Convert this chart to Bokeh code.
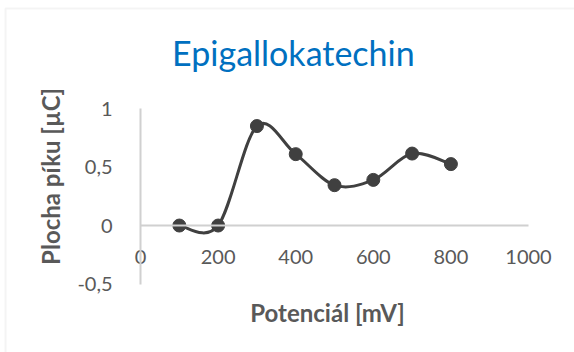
import numpy as np
from bokeh.plotting import figure
from bokeh.models import Range1d, FixedTicker, Label, BoxAnnotation
from bokeh.embed import file_html
from bokeh.resources import INLINE

# ---- data ----
potential_mv = [100, 200, 300, 400, 500, 600, 700, 800]
peak_area_uc = [0.0, 0.0, 0.85, 0.61, 0.345, 0.39, 0.615, 0.525]
x_ticks = [0, 200, 400, 600, 800, 1000]
y_ticks = [-0.5, 0, 0.5, 1]
y_tick_labels = {-0.5: "-0,5", 0: "0", 0.5: "0,5", 1: "1"}
title_text = "Epigallokatechin"
x_title = "Potenciál [mV]"
y_title = "Plocha píku [µC]"

FONT = "Lato"
GRAY_TXT = "#595959"
LINE_COL = "#404040"

# frame covers the whole canvas; axes cross at the origin
p = figure(width=574, height=352, x_range=Range1d(-361, 1118.6), y_range=Range1d(-1.085, 1.923),
           output_backend="svg", toolbar_location=None, title=None,
           min_border=0, min_border_left=0, min_border_right=0,
           min_border_top=0, min_border_bottom=0)
p.outline_line_color = None
p.grid.visible = False
p.background_fill_color = "white"
p.border_fill_color = "white"

for ax in (p.xaxis[0], p.yaxis[0]):
    ax.fixed_location = 0
    ax.axis_line_color = "#d0d0d0"
    ax.axis_line_width = 2
    ax.major_tick_line_color = None
    ax.minor_tick_line_color = None
    ax.major_label_text_font = FONT
    ax.major_label_text_font_size = "20px"
    ax.major_label_text_color = GRAY_TXT

p.xaxis.ticker = FixedTicker(ticks=x_ticks)
p.xaxis.bounds = (0, 1000)
p.xaxis.major_label_standoff = 18
p.yaxis.ticker = FixedTicker(ticks=y_ticks)
p.yaxis.bounds = (-0.5, 1)
p.yaxis.major_label_overrides = y_tick_labels
p.yaxis.major_label_standoff = 22

# smoothed line (Catmull-Rom style Bezier, as in the spreadsheet chart)
x = np.asarray(potential_mv, dtype=float)
y = np.asarray(peak_area_uc, dtype=float)
xp = np.concatenate([[x[0]], x, [x[-1]]])
yp = np.concatenate([[y[0]], y, [y[-1]]])
n = len(x)
x0 = x[:-1]; y0 = y[:-1]; x1 = x[1:]; y1 = y[1:]
cx0 = x0 + (x1 - xp[0:n-1]) / 6.0
cy0 = y0 + (y1 - yp[0:n-1]) / 6.0
cx1 = x1 - (xp[3:n+2] - x0) / 6.0
cy1 = y1 - (yp[3:n+2] - y0) / 6.0
p.bezier(x0=x0, y0=y0, x1=x1, y1=y1, cx0=cx0, cy0=cy0, cx1=cx1, cy1=cy1,
         line_color=LINE_COL, line_width=3)
p.scatter(potential_mv, peak_area_uc, size=13, color=LINE_COL)

p.add_layout(Label(x=394, y=1.479, text=title_text, text_font=FONT, text_font_size="34px",
                   text_color="#0070C0", text_align="center", text_baseline="middle"))
p.add_layout(Label(x=482, y=-0.744, text=x_title, text_font=FONT, text_font_size="24px",
                   text_font_style="bold", text_color=GRAY_TXT, text_align="center",
                   text_baseline="middle"))
p.add_layout(Label(x=-232, y=0.42, text=y_title, text_font=FONT, text_font_size="24px",
                   text_font_style="bold", text_color=GRAY_TXT, text_align="center",
                   text_baseline="middle", angle=np.pi / 2))
p.add_layout(BoxAnnotation(left=-348, right=1300, bottom=-1.5, top=1.855,
                           fill_alpha=0, line_color="#d9d9d9", line_width=2))

open("out.html", "w").write(file_html(p, INLINE))
